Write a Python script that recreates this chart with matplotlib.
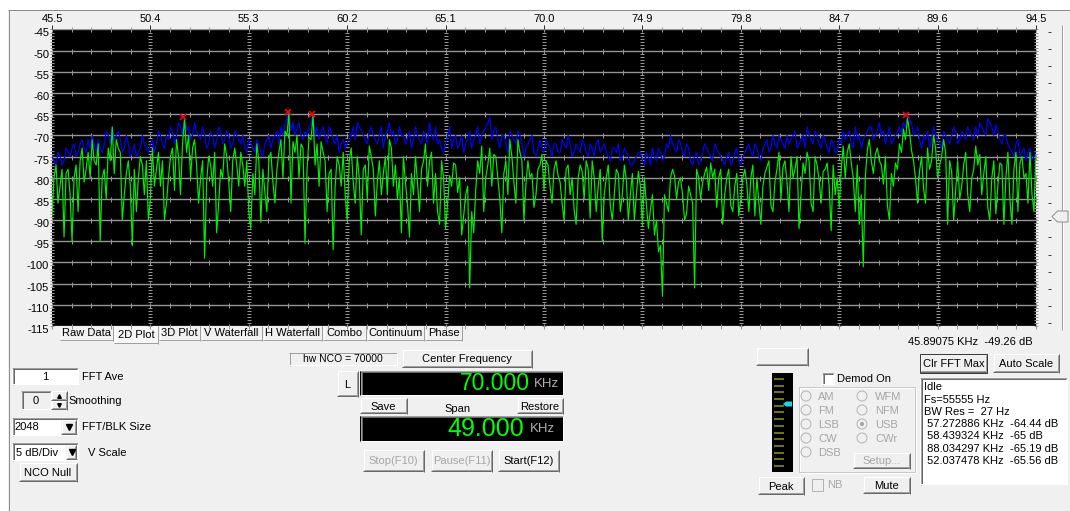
import numpy as np
import matplotlib
matplotlib.use("Agg")
import matplotlib.pyplot as plt
from matplotlib.patches import Rectangle, Polygon, Circle
import matplotlib.transforms as mtransforms

plt.rcParams['font.family'] = ['Liberation Sans', 'DejaVu Sans']

# ---------------------------------------------------------------- data
freq_start_khz = 45.5
freq_step_khz = 0.1

# current sweep (dB), one value per 0.1 kHz bin from 45.5 to 94.5 kHz
live_db = [
    # 45.5 .. 55.3
    -89, -80, -77, -86, -82, -78, -94, -79, -78, -84,
    -95, -80, -77, -88, -76, -73, -81, -78, -74, -80,
    -71, -76, -77, -72, -95, -80, -78, -85, -73, -76,
    -68, -79, -71, -73, -74, -90, -84, -79, -76, -82,
    -96, -78, -88, -80, -75, -77, -84, -76, -90, -85,
    -73, -82, -78, -74, -82, -76, -90, -86, -80, -75,
    -73, -83, -71, -75, -84, -72, -66, -74, -70, -80,
    -73, -71, -77, -86, -80, -76, -99, -81, -75, -77,
    -82, -74, -93, -86, -78, -80, -72, -75, -81, -88,
    -76, -73, -77, -82, -74, -77, -82, -76, -88,
    # 55.4 .. 64.9
    -92, -79, -84, -72, -76, -90.5, -78, -83.5, -88, -75.5,
    -74, -81, -86, -78, -74, -71, -80, -69, -70, -64.4,
    -86, -71.5, -74, -70, -80, -72, -73, -95.5, -78, -70.5,
    -71, -65.2, -77, -72, -82, -71.5, -74, -76, -88, -79,
    -78, -97, -82, -75, -77, -82, -74, -84, -90, -76,
    -73, -81, -86, -75, -80, -93.5, -78, -77, -85, -72.5,
    -75, -78, -89, -81, -76, -84, -79, -75, -84, -71,
    -73, -82, -77, -85, -80, -93, -75, -81, -86, -94,
    -79, -84, -75, -81, -88, -78, -76, -72, -82, -76,
    -74, -86, -79, -88, -91, -76,
    # 65.0 .. 74.7
    -80, -92, -86, -79.5, -82, -76.5, -77, -83.5, -80, -93.5,
    -89, -84, -82, -106, -88, -93, -83, -76, -79, -72.5,
    -88, -80, -77, -73, -82, -74.5, -75, -80, -85, -93,
    -79, -76, -84, -71, -75, -81, -86, -71, -74, -76,
    -90, -81.5, -76, -80, -79, -87, -84, -78, -77, -74.5,
    -83, -76, -77, -82, -86, -78, -76, -79.5, -81, -86,
    -90, -78, -77, -84, -80, -87.5, -91, -80, -77, -78.5,
    -85, -76, -78, -89.5, -76, -80, -88, -82, -78, -95,
    -84, -80, -77, -86.5, -90, -84, -78, -79, -88, -84,
    -77, -80.5, -90, -84, -79, -90, -84, -78.5,
    # 74.8 .. 84.5
    -82, -91.5, -80, -86.5, -92, -87.5, -84, -93.5, -90, -97.5,
    -96, -108, -84, -86, -88, -80, -78, -79.5, -85, -81,
    -80, -84, -90, -88.5, -82, -84, -86, -106, -78, -80,
    -85, -81, -79, -77.5, -83, -76.5, -80, -78, -87, -80,
    -78, -91, -84, -80, -78, -86.5, -88, -82, -79, -89,
    -85, -80, -78, -81.5, -88, -80, -77, -89, -80, -86,
    -91, -82, -79, -77.5, -76, -86.5, -88, -81, -78, -74,
    -85, -77.5, -76, -81, -88, -75, -80, -78, -75, -92,
    -84, -76.5, -79, -74, -76, -86, -88, -75, -77, -80.5,
    -86, -78.5, -78, -76.5, -82, -92.5, -77, -84,
    # 84.6 .. 94.5
    -80, -87, -78, -72.5, -80, -74, -72, -76.5, -80, -88,
    -77, -91, -84, -101, -80, -73.5, -71, -76, -79, -74.5,
    -73, -76, -77, -81.5, -75, -86.5, -90, -79, -82, -76.5,
    -78, -72, -74, -68.5, -71, -66, -69, -73.5, -76, -80,
    -86, -78.5, -75, -82.5, -86, -73, -78, -76, -70, -73,
    -80, -77, -75, -71, -74, -91, -76, -78.5, -90, -83,
    -76, -85, -82, -77, -74, -84, -88, -80, -78, -72.5,
    -77, -74.5, -84, -79, -75, -87, -90, -80, -76, -88.5,
    -82, -76.5, -77, -91, -80, -74, -85, -91, -78, -74,
    -88, -76.5, -75, -80, -79, -86, -74, -84, -88, -74.5,
]

# max-hold trace (dB) on the same bins
max_hold_db = [
    # 45.5 .. 55.3
    -75, -76, -77, -74, -75, -77, -76, -73, -74, -75,
    -73, -72, -75, -74, -72, -71, -73, -74, -71, -73,
    -70, -72, -74, -71, -73, -74, -72, -69, -70, -72,
    -68, -71, -70, -69, -71, -74, -73, -70, -72, -75,
    -74, -72, -75, -74, -73, -70, -72, -73, -74, -72,
    -71, -74, -72, -69, -70, -72, -73, -70, -71, -68,
    -69, -72, -70, -67, -68, -70, -65.6, -69, -68, -71,
    -70, -67, -69, -70, -71, -68, -70, -73, -72, -69,
    -70, -73, -71, -68, -69, -72, -71, -69, -70, -73,
    -72, -69, -70, -71, -72, -70, -73, -74, -71,
    # 55.4 .. 64.9
    -72, -73, -74, -71, -72, -74, -75, -72, -71, -70,
    -73, -71, -70, -69, -72, -68, -70, -67, -66, -64.4,
    -69, -67, -70, -68, -67, -70, -71, -69, -70, -68,
    -67, -65, -70, -68, -71, -69, -68, -70, -72, -68,
    -69, -71, -72, -70, -74, -72, -71, -73, -72, -70,
    -70, -68, -71, -67, -68, -69, -70, -71, -72, -69,
    -68, -70, -71, -72, -70, -68, -73, -70, -69, -67,
    -70, -69, -72, -71, -68, -70, -70, -72, -71, -69,
    -73, -71, -68, -70, -71, -72, -69, -70, -72, -67,
    -70, -71, -68, -72, -71, -73,
    # 65.0 .. 74.7
    -74, -72, -70, -68, -73, -71, -70, -73, -72, -70,
    -74, -72, -71, -69, -73, -71, -70, -68, -72, -70,
    -69, -68, -67, -65.8, -71, -69, -68, -71, -73, -70,
    -70, -72, -74, -69, -70, -71, -72, -69, -70, -72,
    -75, -73, -72, -71, -70, -74, -75, -73, -71, -73,
    -74, -71, -72, -73, -75, -72, -72, -74, -74, -71,
    -72, -73, -70, -72, -75, -74, -72, -73, -74, -71,
    -72, -74, -75, -72, -73, -75, -72, -71, -74, -73,
    -72, -74, -75, -76, -73, -73, -74, -72, -76, -75,
    -73, -74, -75, -77, -77, -76, -75, -74,
    # 74.8 .. 84.5
    -74, -76, -77, -74, -75, -77, -73, -75, -76, -73,
    -74, -76, -75, -72, -73, -70, -72, -73, -74, -71,
    -72, -74, -75, -72, -73, -76, -77, -75, -74, -77,
    -76, -74, -72, -73, -74, -75, -76, -72, -73, -74,
    -75, -76, -77, -75, -74, -77, -76, -74, -73, -76,
    -77, -75, -74, -73, -72, -74, -75, -72, -73, -75,
    -76, -73, -72, -71, -74, -73, -70, -72, -73, -70,
    -71, -72, -73, -70, -72, -71, -70, -69, -73, -72,
    -71, -70, -73, -68, -70, -71, -72, -69, -70, -72,
    -73, -70, -71, -73, -74, -71, -72, -74,
    # 84.6 .. 94.5
    -74, -71, -72, -69, -71, -70, -69, -72, -73, -68,
    -71, -70, -73, -71, -70, -69, -68, -68, -71, -70,
    -69, -67, -70, -69, -72, -70, -68, -72, -71, -70,
    -69, -68, -70, -67, -68, -65.2, -66, -67, -70, -69,
    -68, -71, -73, -70, -71, -69, -73, -71, -68, -70,
    -71, -72, -73, -69, -70, -71, -72, -70, -68, -69,
    -72, -71, -69, -70, -71, -68, -69, -70, -71, -68,
    -70, -67, -68, -69, -70, -66, -67, -68, -70, -67.5,
    -69, -71, -72, -70, -70, -72, -73, -74, -75, -72,
    -71, -75, -74, -73, -76, -74, -73, -76, -75, -74,
]

# detected peaks
peak_khz = [57.272886, 58.439324, 88.034297, 52.037478]
peak_db = [-64.44, -65, -65.19, -65.56]

x_ticks = [45.5, 50.4, 55.3, 60.2, 65.1, 70.0, 74.9, 79.8, 84.7, 89.6, 94.5]
y_ticks = [-45, -50, -55, -60, -65, -70, -75, -80, -85, -90, -95, -100, -105, -110, -115]

tab_names = ["Raw Data", "2D Plot", "3D Plot", "V Waterfall", "H Waterfall", "Combo", "Continuum", "Phase"]
tab_edges = [60, 114, 159, 201, 263, 323, 367, 425, 463]

status_lines = ["Idle", "Fs=55555 Hz", "BW Res =  27 Hz"]
cursor_khz, cursor_db = 45.89075, -49.26
center_khz, span_khz = 70.000, 49.000

freqs = freq_start_khz + freq_step_khz * np.arange(len(live_db))

# ---------------------------------------------------------------- figure / ui layer
W, H = 1070, 511
PX = 0.72  # one pixel in points
FACE = '#f0f0f0'
GREY_TXT = '#a6a6a6'
fig = plt.figure(figsize=(W / 100, H / 100), dpi=100, facecolor=FACE)
ui = fig.add_axes([0, 0, 1, 1])
ui.set_xlim(0, W)
ui.set_ylim(H, 0)
ui.axis('off')


def line(xs, ys, c, lw=1, z=2):
    ui.plot(xs, ys, color=c, lw=lw * PX, solid_capstyle='butt', zorder=z)


def box(x0, y0, x1, y1, fc, ec='none', lw=1, z=1):
    ui.add_patch(Rectangle((x0, y0), x1 - x0, y1 - y0, facecolor=fc, edgecolor=ec,
                           linewidth=lw * PX, zorder=z))


def raised(x0, y0, x1, y1, z=2):
    box(x0, y0, x1, y1, FACE, z=z)
    line([x0 + .5, x1 - .5], [y0 + .5, y0 + .5], 'white', z=z + .1)
    line([x0 + .5, x0 + .5], [y0 + .5, y1 - .5], 'white', z=z + .1)
    line([x0, x1], [y1 - .5, y1 - .5], '#696969', z=z + .1)
    line([x1 - .5, x1 - .5], [y0, y1], '#696969', z=z + .1)
    line([x0 + 1, x1 - 1], [y1 - 1.5, y1 - 1.5], '#a0a0a0', z=z + .1)
    line([x1 - 1.5, x1 - 1.5], [y0 + 1, y1 - 1], '#a0a0a0', z=z + .1)


def sunken(x0, y0, x1, y1, fc='white', z=2):
    box(x0, y0, x1, y1, fc, z=z)
    line([x0, x1], [y0 + .5, y0 + .5], '#a0a0a0', z=z + .1)
    line([x0 + .5, x0 + .5], [y0, y1], '#a0a0a0', z=z + .1)
    line([x0 + 1, x1 - 1], [y0 + 1.5, y0 + 1.5], '#696969', z=z + .1)
    line([x0 + 1.5, x0 + 1.5], [y0 + 1, y1 - 1], '#696969', z=z + .1)
    line([x0, x1], [y1 - .5, y1 - .5], 'white', z=z + .1)
    line([x1 - .5, x1 - .5], [y0, y1], 'white', z=z + .1)


def button(x0, y0, x1, y1, label, enabled=True, fs=8):
    raised(x0, y0, x1, y1)
    ui.text((x0 + x1) / 2, (y0 + y1) / 2 + 0.5, label, ha='center', va='center', fontsize=fs,
            color='black' if enabled else GREY_TXT, zorder=3)


def label(x, y, s, c='black', fs=8, ha='left'):
    ui.text(x, y, s, ha=ha, va='center', fontsize=fs, color=c, zorder=3)


# window frame
box(0, 0, W, 10, 'white', z=0.5)
box(0, 10, 8, H, 'white', z=0.5)
line([8, W], [10.5, 10.5], '#8c8c8c')
line([8.5, 8.5], [10, H], '#8c8c8c')

# tabs under the plot
for i, name in enumerate(tab_names):
    x0, x1 = tab_edges[i], tab_edges[i + 1] - 1
    sel = name == "2D Plot"
    y1 = 344 if sel else 341
    box(x0, 326, x1, y1, '#f7f7f7' if sel else FACE, z=1.5)
    line([x0 + .5, x0 + .5], [326, y1], 'white', z=1.6)
    line([x1 - .5, x1 - .5], [326, y1], '#a0a0a0', z=1.6)
    line([x0, x1], [y1 - .5, y1 - .5], '#a0a0a0', z=1.6)
    ui.text((x0 + x1) / 2, 335 if sel else 333.5, name, ha='center', va='center',
            fontsize=8, zorder=3)

label(908, 342, f"{cursor_khz:.5f} KHz  {cursor_db:.2f} dB")

# left controls
sunken(12, 368, 78, 385)
label(45, 376.5, "1", ha='center')
label(82, 376.5, "FFT Ave")
sunken(21, 391, 51, 410, fc=FACE)
label(36, 401, "0", ha='center')
raised(51, 391, 67, 400.5)
raised(51, 400.5, 67, 410)
ui.plot([59], [396], marker='^', ms=2.6, color='black', zorder=4)
ui.plot([59], [405.5], marker='v', ms=2.6, color='black', zorder=4)
label(68, 400.5, "Smoothing")
sunken(12, 418, 78, 436)
label(14.5, 427.5, "2048")
raised(61, 420, 76.5, 434.5)
ui.plot([69], [427.5], marker='v', ms=4.2, color='black', zorder=4)
label(82, 427.5, "FFT/BLK Size")
sunken(12, 443, 78, 461)
label(16, 452.5, "5 dB/Div")
raised(66, 445, 76.5, 459.5)
ui.plot([71.5], [452.5], marker='v', ms=4.2, color='black', zorder=4)
label(88, 452.5, "V Scale")
button(19, 463, 77, 482, "NCO Null")

# frequency / span controls
box(289, 353, 397, 366, FACE, z=2)
line([289, 397], [353.5, 353.5], '#a0a0a0')
line([289.5, 289.5], [353, 366], '#a0a0a0')
line([289, 397], [365.5, 365.5], 'white')
line([396.5, 396.5], [353, 366], 'white')
label(343, 359.5, f"hw NCO = {center_khz * 1000:.0f}", ha='center', fs=7.5)
button(402, 350, 532, 368, "Center Frequency")
button(337, 371, 358, 397, "L")
sunken(360, 371, 563, 396, fc='black')
label(530, 384, f"{center_khz:.3f}", c='#00ff00', fs=16.5, ha='right')
label(534, 384, "KHz", c='#b0b0b0', fs=9.5)
button(360, 398, 407, 414, "Save")
label(458, 408.5, "Span", ha='center')
button(517, 398, 563, 414, "Restore")
sunken(360, 416, 563, 442, fc='black')
label(524, 429.5, f"{span_khz:.3f}", c='#00ff00', fs=18, ha='right')
label(530, 429.5, "KHz", c='#b0b0b0', fs=9.5)
button(363, 450, 424, 472, "Stop(F10)", enabled=False)
button(431, 450, 492, 472, "Pause(F11)", enabled=False)
button(498, 450, 559, 472, "Start(F12)")

# demodulator block
raised(756, 348, 808, 366)
box(772, 373, 793, 472, 'black', z=2)
for yb in np.linspace(379, 466, 14):
    line([774, 784], [yb, yb], '#9a9a10', lw=1.5, z=3)
ui.add_patch(Polygon([[783, 404], [786, 401.5], [792, 401.5], [792, 406.5], [786, 406.5]],
                     closed=True, facecolor='#19d6e6', edgecolor='none', zorder=4))
sunken(822, 373, 834, 385)
label(837, 378.5, "Demod On")
box(799, 387, 915, 472, 'none', ec='#c8c8c8', z=2)
box(800, 388, 916, 473, 'none', ec='white', z=1.9)
radio_left = ["AM", "FM", "LSB", "CW", "DSB"]
radio_right = ["WFM", "NFM", "USB", "CWr"]
for i, name in enumerate(radio_left):
    yy = 396 + 14 * i
    ui.add_patch(Circle((806, yy), 5, facecolor=FACE, edgecolor='#b4b4b4', lw=PX, zorder=3))
    label(818, yy + .5, name, c=GREY_TXT)
for i, name in enumerate(radio_right):
    yy = 396 + 14 * i
    ui.add_patch(Circle((862, yy), 5, facecolor=FACE, edgecolor='#b4b4b4', lw=PX, zorder=3))
    if name == "USB":
        ui.add_patch(Circle((862, yy), 2, facecolor='#a0a0a0', edgecolor='none', zorder=4))
    label(875, yy + .5, name, c=GREY_TXT)
button(853, 453, 910, 469, "Setup...", enabled=False)
button(758, 477, 804, 495, "Peak")
box(812, 479, 823, 491, FACE, ec='#b4b4b4', z=2)
label(827, 485.5, "NB", c=GREY_TXT)
button(863, 477, 910, 494, "Mute")

# peak list
button(920, 354, 987, 373, "Clr FFT Max")
box(920, 354, 987, 373, 'none', ec='#3c3c3c', z=2.5)
button(993, 354, 1059, 373, "Auto Scale")
sunken(920, 378, 1067, 485)
list_lines = status_lines + [f" {f:.6f} KHz  {d:g} dB" for f, d in zip(peak_khz, peak_db)]
for i, s in enumerate(list_lines):
    label(924, 387.5 + 12.2 * i, s)

# level slider
for yt in np.linspace(32, 323, 18):
    line([1048, 1051], [yt, yt], '#404040', z=2)
line([1061.5, 1061.5], [25, 330], '#a0a0a0', lw=1)
line([1062.5, 1062.5], [25, 330], 'white', lw=1)
ui.add_patch(Polygon([[1052, 216.5], [1057.5, 211], [1068, 211], [1068, 222], [1057.5, 222]],
                     closed=True, facecolor=FACE, edgecolor='#909090', lw=PX, zorder=4))

# ---------------------------------------------------------------- spectrum plot
L, R, T, B = 52, 1036, 29.5, 326
ax = fig.add_axes([L / W, 1 - B / H, (R - L) / W, (B - T) / H])
ax.set_facecolor('black')
ax.set_xlim(x_ticks[0], x_ticks[-1])
ax.set_ylim(y_ticks[-1], y_ticks[0])
for sp in ax.spines.values():
    sp.set_visible(False)

GRID = '#969696'
for yv in y_ticks:
    ax.axhline(yv, color=GRID, lw=1.0, zorder=1)
minor_x = np.linspace(x_ticks[0], x_ticks[-1], 51)
for yv in y_ticks:
    ax.plot(minor_x, [yv] * len(minor_x), ls='none', marker='|', ms=3.6, mew=PX,
            color=GRID, zorder=1, clip_on=False)
dot_y = np.linspace(y_ticks[0], y_ticks[-1], 7 * (len(y_ticks) - 1) + 1)
for xv in x_ticks:
    ax.plot([xv] * len(dot_y), dot_y, ls='none', marker='_', ms=2.4, mew=PX,
            color=GRID, zorder=1, clip_on=False)

ax.plot(freqs, max_hold_db, color='#0000ff', lw=0.85, zorder=2)
ax.plot(freqs, live_db, color='#00ee00', lw=0.85, zorder=3)
ax.plot(peak_khz, peak_db, ls='none', marker='x', ms=5, mew=1.2, color='#ff0000', zorder=4)

ax.xaxis.tick_top()
ax.set_xticks(x_ticks)
ax.set_xticklabels([f"{v:.1f}" for v in x_ticks], fontsize=8)
ax.tick_params(axis='x', direction='out', length=3, width=PX, color='#303030', pad=1)
ax.set_yticks(y_ticks)
ax.set_yticklabels([f"{v}" for v in y_ticks], fontsize=8)
ax.tick_params(axis='y', length=0, pad=2)
shift = mtransforms.ScaledTranslation(0, -3 / 100, fig.dpi_scale_trans)
for lbl in ax.get_yticklabels():
    lbl.set_transform(lbl.get_transform() + shift)

fig.savefig("out.png", dpi=100, facecolor=FACE)
